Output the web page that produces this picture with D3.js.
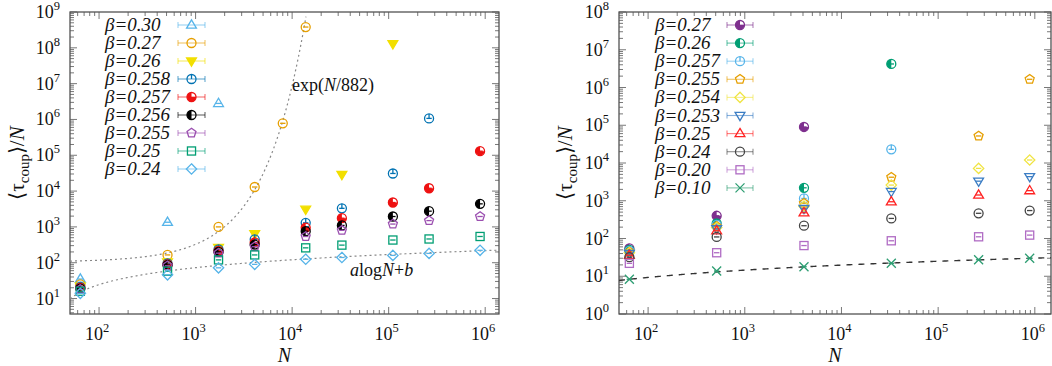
<!DOCTYPE html>
<html>
<head>
<meta charset="utf-8">
<script src="https://cdn.jsdelivr.net/npm/d3@7"></script>
<style>
  body { margin: 0; background: #fff; }
  svg text { fill: #111; }
</style>
</head>
<body>
<svg id="chart" width="1052" height="366" font-family="'Liberation Serif', 'Times New Roman', Times, serif"></svg>
<script>
// ---- left panel data : N (system size) and <tau_coup>/N per beta ----
var leftN = [64, 512, 1728, 4096, 8000, 13824, 32768, 110592, 262144, 884736];
var leftBeta = ["0.30", "0.27", "0.26", "0.258", "0.257", "0.256", "0.255", "0.25", "0.24"];
var leftTau = [
  [35, 1350, 2.8e6, null, null, null, null, null, null, null],
  [25, 165, 1000, 13000, 7.8e5, 3.8e8, null, null, null, null],
  [22, 105, 265, 640, null, 3100, 29000, 1.3e8, null, null],
  [21, 95, 235, 450, null, 1300, 3300, 31000, 1.07e6, null],
  [20, 90, 215, 370, null, 950, 1750, 4800, 12000, 1.3e5],
  [19, 86, 200, 320, null, 760, 1100, 1950, 2750, 4400],
  [18, 82, 185, 280, null, 540, 800, 1200, 1500, 1950],
  [16, 58, 120, 165, null, 260, 310, 430, 460, 540],
  [14, 46, 72, 90, null, 125, 140, 160, 182, 222]
];
var leftColors = ["#56b4e9", "#e69f00", "#f2df00", "#0072b2", "#ee1111", "#000000", "#9b4fb0", "#009e73", "#56b4e9"];
var leftShapes = ["triUp", "circle", "triDownFill", "circleHand", "pie34", "pie12", "pent", "square", "diamond"];

// fitted curves on the left panel
var expFit = { A: 105, scale: 882 };        // A * exp(N/scale)
var logFitLeft = { a: 48.3, b: -72.2 };     // a*log10(N) + b

// ---- right panel data ----
var rightN = [64, 512, 4096, 32768, 262144, 884736];
var rightBeta = ["0.27", "0.26", "0.257", "0.255", "0.254", "0.253", "0.25", "0.24", "0.20", "0.10"];
var rightTau = [
  [55, 400, 9.0e4, null, null, null],
  [50, 250, 2200, 4.2e6, null, null],
  [47, 230, 1150, 23000, null, null],
  [44, 210, 860, 4200, 52000, 1.65e6],
  [42, 195, 720, 2600, 7200, 12000],
  [40, 180, 620, 1750, 3300, 4350],
  [36, 160, 480, 940, 1420, 1850],
  [32, 110, 218, 340, 465, 550],
  [22, 42, 65, 87, 111, 123],
  [8.3, 13.8, 17.9, 22, 27.4, 29.9]
];
var rightColors = ["#7e2f8e", "#009e73", "#56b4e9", "#e69f00", "#f0e442", "#3b7dc4", "#ff2222", "#444444", "#b06cc4", "#2e9e73"];
var rightShapes = ["pie34", "pie12", "circleHand", "pent", "diamond", "triDown", "triUp", "circle", "square", "cross"];
var logFitRight = { a: 5.22, b: -1.13 };

var svg = d3.select("#chart");

/*
  drawMarker - draws one point symbol centred on (x, y)
*/
function drawMarker(g, shape, color, x, y, r, withBar) {
  var m = g.append("g").attr("transform", "translate(" + x + "," + y + ")");
  var sw = 1.3;
  if (shape == "circle" || shape == "circleHand") {
    m.append("circle").attr("r", r).attr("fill", "none").attr("stroke", color).attr("stroke-width", sw);
    if (shape == "circleHand") {
      m.append("line").attr("x1", 0).attr("y1", 0).attr("x2", 0).attr("y2", -r)
        .attr("stroke", color).attr("stroke-width", sw);
    }
  } else if (shape == "pie34" || shape == "pie12") {
    var a0 = shape == "pie34" ? Math.PI / 2 : Math.PI;
    m.append("path")
      .attr("d", d3.arc().innerRadius(0).outerRadius(r).startAngle(a0).endAngle(2 * Math.PI)())
      .attr("fill", color);
    m.append("circle").attr("r", r).attr("fill", "none").attr("stroke", color).attr("stroke-width", sw);
  } else if (shape == "triUp" || shape == "triDown" || shape == "triDownFill") {
    var s = shape == "triUp" ? -1 : 1;
    var tr = r * 1.15;
    var pts = [[0, s * tr], [tr * 0.95, -s * tr * 0.6], [-tr * 0.95, -s * tr * 0.6]];
    m.append("path").attr("d", d3.line()(pts) + "Z")
      .attr("fill", shape == "triDownFill" ? color : "none")
      .attr("stroke", color).attr("stroke-width", sw);
  } else if (shape == "square") {
    m.append("rect").attr("x", -r * 0.9).attr("y", -r * 0.9).attr("width", r * 1.8).attr("height", r * 1.8)
      .attr("fill", "none").attr("stroke", color).attr("stroke-width", sw);
  } else if (shape == "diamond") {
    var dr = r * 1.15;
    m.append("path").attr("d", d3.line()([[0, -dr], [dr, 0], [0, dr], [-dr, 0]]) + "Z")
      .attr("fill", "none").attr("stroke", color).attr("stroke-width", sw);
  } else if (shape == "pent") {
    var pp = d3.range(5).map(function (i) {
      var a = -Math.PI / 2 + i * 2 * Math.PI / 5;
      return [r * 1.05 * Math.cos(a), r * 1.05 * Math.sin(a)];
    });
    m.append("path").attr("d", d3.line()(pp) + "Z")
      .attr("fill", "none").attr("stroke", color).attr("stroke-width", sw);
  } else if (shape == "cross") {
    m.append("path").attr("d", "M" + (-r) + "," + (-r) + "L" + r + "," + r + "M" + r + "," + (-r) + "L" + (-r) + "," + r)
      .attr("stroke", color).attr("stroke-width", sw);
  }
  if (withBar) {
    // tiny error bar caps collapse into a dash inside the symbol
    m.append("line").attr("x1", -r * 0.6).attr("x2", r * 0.6).attr("y1", 0).attr("y2", 0)
      .attr("stroke", color).attr("stroke-width", sw);
  }
} // end function drawMarker

/*
  powLabel - "10" with superscript exponent
*/
function powLabel(g, x, y, exp, anchor) {
  var t = g.append("text").attr("x", x).attr("y", y).attr("text-anchor", anchor).attr("font-size", 18);
  t.append("tspan").text("10");
  t.append("tspan").attr("dy", -8).attr("font-size", 12.5).text(exp);
} // end function powLabel

/*
  drawPanel - frame, ticks, labels, points, legend of one panel
*/
function drawPanel(cfg) {
  var g = svg.append("g");
  var x = d3.scaleLog().domain(cfg.xDomain).range([cfg.left, cfg.right]);
  var y = d3.scaleLog().domain(cfg.yDomain).range([cfg.bottom, cfg.top]);

  // frame
  g.append("rect").attr("x", cfg.left).attr("y", cfg.top)
    .attr("width", cfg.right - cfg.left).attr("height", cfg.bottom - cfg.top)
    .attr("fill", "none").attr("stroke", "#444").attr("stroke-width", 1.2);

  var tickCol = "#555";
  // x ticks
  x.ticks().forEach(function (v) {
    var e = Math.log10(v), major = Math.abs(e - Math.round(e)) < 1e-6;
    var len = major ? 7 : 4, px = x(v);
    if (px <= cfg.left + 0.5 || px >= cfg.right - 0.5) return;
    g.append("line").attr("x1", px).attr("x2", px).attr("y1", cfg.bottom).attr("y2", cfg.bottom - len)
      .attr("stroke", tickCol).attr("stroke-width", 0.8);
    g.append("line").attr("x1", px).attr("x2", px).attr("y1", cfg.top).attr("y2", cfg.top + len)
      .attr("stroke", tickCol).attr("stroke-width", 0.8);
    if (major) powLabel(g, px - 2, cfg.bottom + 26, Math.round(e), "middle");
  });
  // y ticks
  y.ticks().forEach(function (v) {
    var e = Math.log10(v), major = Math.abs(e - Math.round(e)) < 1e-6;
    var len = major ? 7 : 4, py = y(v);
    if (py < cfg.top - 0.5 || py > cfg.bottom + 0.5) return;
    g.append("line").attr("x1", cfg.left).attr("x2", cfg.left + len).attr("y1", py).attr("y2", py)
      .attr("stroke", tickCol).attr("stroke-width", 0.8);
    g.append("line").attr("x1", cfg.right).attr("x2", cfg.right - len).attr("y1", py).attr("y2", py)
      .attr("stroke", tickCol).attr("stroke-width", 0.8);
    if (major) powLabel(g, cfg.left - 10, py + 6, Math.round(e), "end");
  });

  // axis titles
  g.append("text").attr("x", (cfg.left + cfg.right) / 2).attr("y", 362)
    .attr("text-anchor", "middle").attr("font-size", 20).attr("font-style", "italic").text("N");
  var yt = g.append("text").attr("transform", "translate(" + cfg.yTitleX + "," + ((cfg.top + cfg.bottom) / 2) + ") rotate(-90)")
    .attr("text-anchor", "middle").attr("font-size", 21);
  yt.append("tspan").text("\u27E8\u03C4");
  yt.append("tspan").attr("dy", 5).attr("font-size", 15).text("coup");
  yt.append("tspan").attr("dy", -5).text("\u27E9/");
  yt.append("tspan").attr("font-style", "italic").text("N");

  // fitted curves
  var curveN = d3.range(0, 401).map(function (i) {
    return Math.pow(10, Math.log10(cfg.xDomain[0]) + i / 400 * (Math.log10(cfg.xDomain[1]) - Math.log10(cfg.xDomain[0])));
  });
  cfg.curves.forEach(function (c) {
    var pts = curveN.map(function (n) { return [n, c.f(n)]; })
      .filter(function (p) { return p[1] >= cfg.yDomain[0] && p[1] <= cfg.yDomain[1] * 1.0001; });
    g.append("path")
      .attr("d", d3.line().x(function (p) { return x(p[0]); }).y(function (p) { return y(p[1]); })(pts))
      .attr("fill", "none").attr("stroke", c.color).attr("stroke-width", c.width).attr("stroke-dasharray", c.dash);
  });

  // data points
  cfg.tau.forEach(function (row, si) {
    row.forEach(function (v, ni) {
      if (v == null) return;
      drawMarker(g, cfg.shapes[si], cfg.colors[si], x(cfg.N[ni]), y(v), 4.5, true);
    });
  });

  // legend
  cfg.beta.forEach(function (b, i) {
    var ly = cfg.legY + i * cfg.legStep;
    g.append("text").attr("x", cfg.legX).attr("y", ly + 6).attr("font-size", 19).attr("font-style", "italic")
      .text("\u03B2=" + b);
    var l = g.append("g").attr("stroke", cfg.colors[i]).attr("stroke-opacity", 0.6).attr("stroke-width", 1.1);
    l.append("line").attr("x1", cfg.symX0).attr("x2", cfg.symX1).attr("y1", ly).attr("y2", ly);
    l.append("line").attr("x1", cfg.symX0).attr("x2", cfg.symX0).attr("y1", ly - 3).attr("y2", ly + 3);
    l.append("line").attr("x1", cfg.symX1).attr("x2", cfg.symX1).attr("y1", ly - 3).attr("y2", ly + 3);
    drawMarker(g, cfg.shapes[i], cfg.colors[i], (cfg.symX0 + cfg.symX1) / 2, ly, 4.5, false);
  });

  return { g: g, x: x, y: y };
} // end function drawPanel

var leftPanel = drawPanel({
  left: 70, right: 499, top: 12, bottom: 314,
  xDomain: [50, 1.39e6], yDomain: [3.7, 1e9],
  N: leftN, tau: leftTau, beta: leftBeta, colors: leftColors, shapes: leftShapes,
  yTitleX: 24,
  legX: 105, legY: 25, legStep: 18.0, symX0: 178, symX1: 205,
  curves: [
    { f: function (n) { return expFit.A * Math.exp(n / expFit.scale); }, color: "#888", width: 1.2, dash: "2,3" },
    { f: function (n) { return logFitLeft.a * Math.log10(n) + logFitLeft.b; }, color: "#888", width: 1.2, dash: "2,3" }
  ]
});

// curve annotations
var t1 = leftPanel.g.append("text").attr("x", 292).attr("y", 91).attr("font-size", 18);
t1.append("tspan").text("exp(");
t1.append("tspan").attr("font-style", "italic").text("N");
t1.append("tspan").text("/882)");
var t2 = leftPanel.g.append("text").attr("x", 350).attr("y", 276).attr("font-size", 18);
t2.append("tspan").attr("font-style", "italic").text("a");
t2.append("tspan").text("log");
t2.append("tspan").attr("font-style", "italic").text("N");
t2.append("tspan").text("+");
t2.append("tspan").attr("font-style", "italic").text("b");

drawPanel({
  left: 619, right: 1051, top: 12, bottom: 314,
  xDomain: [50, 1.47e6], yDomain: [1, 1e8],
  N: rightN, tau: rightTau, beta: rightBeta, colors: rightColors, shapes: rightShapes,
  yTitleX: 572,
  legX: 655, legY: 25, legStep: 18.1, symX0: 727, symX1: 753,
  curves: [
    { f: function (n) { return logFitRight.a * Math.log10(n) + logFitRight.b; }, color: "#333", width: 1.4, dash: "6,6" }
  ]
});
</script>
</body>
</html>
